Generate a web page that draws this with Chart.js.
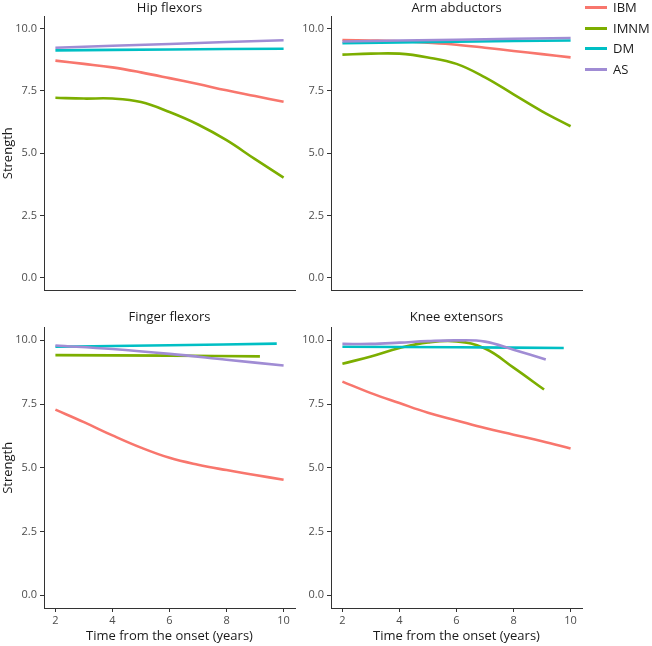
<!DOCTYPE html>
<html>
<head>
<meta charset="utf-8">
<script src="https://cdn.jsdelivr.net/npm/chart.js@4.4.0/dist/chart.umd.min.js"></script>
<style>
  html, body { margin: 0; padding: 0; background: #fff; }
  #wrap { position: relative; width: 652px; height: 646px; overflow: hidden; font-family: 'Open Sans', sans-serif; }
  .pane { position: absolute; }
  #legend { position: absolute; left: 585px; top: 0; }
  .lg { position: absolute; left: 0; height: 20px; white-space: nowrap; font-size: 13px; color: #1a1a1a; }
  .lg span.sw { position: absolute; left: 0; top: 9px; width: 22px; height: 3px; }
  .lg span.tx { position: absolute; left: 28px; top: 0; line-height: 20px; }
</style>
</head>
<body>
<div id="wrap">
  <div class="pane" style="left:0;top:0;width:300px;height:300px"><canvas id="c0"></canvas></div>
  <div class="pane" style="left:300px;top:0;width:290px;height:300px"><canvas id="c1"></canvas></div>
  <div class="pane" style="left:0;top:300px;width:300px;height:346px"><canvas id="c2"></canvas></div>
  <div class="pane" style="left:300px;top:300px;width:290px;height:346px"><canvas id="c3"></canvas></div>
  <div id="legend"></div>
</div>
<script>
// ---------------- data ----------------
const groups = ['IBM', 'IMNM', 'DM', 'AS'];
const groupColors = ['#F8766D', '#7CAE00', '#00BFC4', '#A08CD4'];
const panelTitles = ['Hip flexors', 'Arm abductors', 'Finger flexors', 'Knee extensors'];
const xTicks = [2, 4, 6, 8, 10];
const yTicks = [0, 2.5, 5, 7.5, 10];
const xTitle = 'Time from the onset (years)';
const yTitle = 'Strength';

const xFull = [2, 3, 4, 5, 6, 7, 8, 9, 10];

// Hip flexors
const hipIBM_x = xFull;
const hipIBM_y = [8.71, 8.58, 8.44, 8.24, 8.01, 7.77, 7.52, 7.29, 7.06];
const hipIMNM_x = xFull;
const hipIMNM_y = [7.22, 7.19, 7.19, 7.05, 6.65, 6.15, 5.52, 4.76, 4.02];
const hipDM_x = [2, 6, 10];
const hipDM_y = [9.12, 9.16, 9.19];
const hipAS_x = [2, 6, 10];
const hipAS_y = [9.23, 9.38, 9.53];

// Arm abductors
const armIBM_x = xFull;
const armIBM_y = [9.54, 9.52, 9.49, 9.43, 9.35, 9.23, 9.10, 8.97, 8.84];
const armIMNM_x = xFull;
const armIMNM_y = [8.95, 8.99, 8.99, 8.84, 8.58, 8.04, 7.36, 6.68, 6.08];
const armDM_x = [2, 6, 10];
const armDM_y = [9.41, 9.47, 9.52];
const armAS_x = [2, 6, 10];
const armAS_y = [9.48, 9.55, 9.62];

// Finger flexors
const fingIBM_x = xFull;
const fingIBM_y = [7.28, 6.79, 6.27, 5.79, 5.39, 5.12, 4.91, 4.72, 4.53];
const fingIMNM_x = [2, 6, 9.17];
const fingIMNM_y = [9.42, 9.40, 9.37];
const fingDM_x = [2, 6, 9.76];
const fingDM_y = [9.75, 9.81, 9.87];
const fingAS_x = [2, 4, 6, 8, 10];
const fingAS_y = [9.80, 9.66, 9.47, 9.24, 9.01];

// Knee extensors
const kneeIBM_x = xFull;
const kneeIBM_y = [8.38, 7.93, 7.54, 7.16, 6.86, 6.56, 6.30, 6.04, 5.76];
const kneeIMNM_x = [2, 3, 4, 5, 6, 7, 8, 9.07];
const kneeIMNM_y = [9.08, 9.37, 9.70, 9.92, 9.96, 9.68, 8.93, 8.07];
const kneeDM_x = [2, 6, 9.76];
const kneeDM_y = [9.75, 9.73, 9.70];
const kneeAS_x = [2, 3, 4, 5, 6, 7, 8, 9.13];
const kneeAS_y = [9.86, 9.86, 9.91, 9.97, 10.0, 9.95, 9.63, 9.25];

const panelSeries = [
  [[hipIBM_x, hipIBM_y], [hipIMNM_x, hipIMNM_y], [hipDM_x, hipDM_y], [hipAS_x, hipAS_y]],
  [[armIBM_x, armIBM_y], [armIMNM_x, armIMNM_y], [armDM_x, armDM_y], [armAS_x, armAS_y]],
  [[fingIBM_x, fingIBM_y], [fingIMNM_x, fingIMNM_y], [fingDM_x, fingDM_y], [fingAS_x, fingAS_y]],
  [[kneeIBM_x, kneeIBM_y], [kneeIMNM_x, kneeIMNM_y], [kneeDM_x, kneeDM_y], [kneeAS_x, kneeAS_y]]
];

// ---------------- charts ----------------
Chart.defaults.font.family = "'Open Sans', sans-serif";
Chart.defaults.animation = false;

const axisColor = '#333333';
const tickTextColor = '#4D4D4D';

function makePanel(idx) {
  const isLeft = idx % 2 === 0;
  const isBottom = idx >= 2;
  const datasets = panelSeries[idx].map((s, g) => ({
    label: groups[g],
    data: s[0].map((x, i) => ({ x: x, y: s[1][i] })),
    borderColor: groupColors[g],
    backgroundColor: groupColors[g],
    borderWidth: 2.6,
    pointRadius: 0,
    fill: false,
    tension: 0.4,
    order: 4 - g
  }));
  const yWidth = isLeft ? 44 : 31;
  const cfg = {
    type: 'line',
    data: { datasets },
    options: {
      responsive: true,
      maintainAspectRatio: false,
      animation: false,
      layout: { padding: { left: 0, right: isLeft ? 5 : 8, top: 0, bottom: isBottom ? 0 : 3 } },
      plugins: {
        legend: { display: false },
        tooltip: { enabled: false },
        title: {
          display: true,
          text: panelTitles[idx],
          fullSize: false,
          color: '#1a1a1a',
          font: { size: 13, weight: 'normal' },
          padding: isBottom ? { top: 9, bottom: 3 } : { top: 0, bottom: 0.4 }
        }
      },
      scales: {
        x: {
          type: 'linear',
          min: 1.6,
          max: 10.4,
          afterBuildTicks: (sc) => { sc.ticks = xTicks.map(v => ({ value: v })); },
          afterFit: (sc) => { sc.height = isBottom ? 38 : 0; },
          grid: { display: true, drawOnChartArea: false, drawTicks: isBottom, tickLength: 4, color: axisColor, lineWidth: 1 },
          border: { display: true, color: axisColor, width: 1 },
          ticks: { display: isBottom, color: tickTextColor, font: { size: 11 }, padding: 2, maxRotation: 0, autoSkip: false },
          title: { display: isBottom, text: xTitle, color: '#1a1a1a', font: { size: 13 }, padding: { top: 0, bottom: 2 } }
        },
        y: {
          type: 'linear',
          min: -0.5,
          max: 10.5,
          afterBuildTicks: (sc) => { sc.ticks = yTicks.map(v => ({ value: v })); },
          afterFit: (sc) => { sc.width = yWidth; },
          grid: { display: true, drawOnChartArea: false, drawTicks: true, tickLength: 4, color: axisColor, lineWidth: 1 },
          border: { display: true, color: axisColor, width: 1 },
          ticks: { color: tickTextColor, font: { size: 11 }, padding: 3, autoSkip: false,
                   callback: (v) => Number(v).toFixed(1) },
          title: { display: isLeft, text: yTitle, color: '#1a1a1a', font: { size: 13 }, padding: { top: 0, bottom: 0 } }
        }
      }
    }
  };
  return new Chart(document.getElementById('c' + idx), cfg);
}

for (let i = 0; i < 4; i++) makePanel(i);

// ---------------- legend ----------------
const legend = document.getElementById('legend');
groups.forEach((g, i) => {
  const d = document.createElement('div');
  d.className = 'lg';
  d.style.top = (-3 + i * 20.5) + 'px';
  const sw = document.createElement('span');
  sw.className = 'sw';
  sw.style.background = groupColors[i];
  const tx = document.createElement('span');
  tx.className = 'tx';
  tx.textContent = g;
  d.appendChild(sw);
  d.appendChild(tx);
  legend.appendChild(d);
});
</script>
</body>
</html>
